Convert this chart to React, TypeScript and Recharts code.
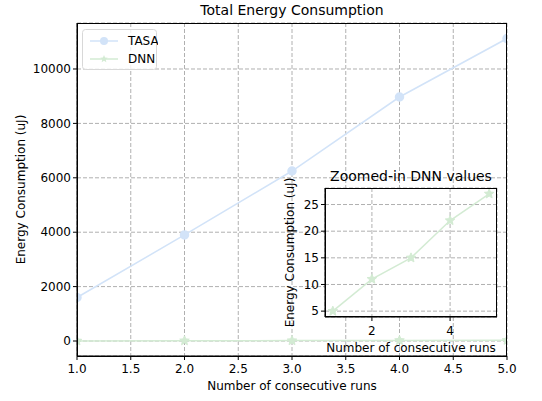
import { LineChart, Line, XAxis, YAxis, CartesianGrid, Label } from 'recharts';

const runs = [1, 2, 3, 4, 5];
const tasaEnergy = [1600, 3900, 6250, 8970, 11120];
const dnnEnergy = [5, 11, 15, 22, 27];

const mainXTicks = [1, 1.5, 2, 2.5, 3, 3.5, 4, 4.5, 5];
const mainYTicks = [0, 2000, 4000, 6000, 8000, 10000];
const insetXTicks = [2, 4];
const insetYTicks = [5, 10, 15, 20, 25];

const TASA_COLOR = '#d2e3f8';
const DNN_COLOR = '#d3ebd3';
const FONT = '"DejaVu Sans", sans-serif';

const data = runs.map((r, i) => ({ run: r, tasa: tasaEnergy[i], dnn: dnnEnergy[i] }));

const starPath = (cx: number, cy: number, R: number) => {
    const r = R * 0.45;
    let d = '';
    for (let i = 0; i < 10; i++) {
        const rad = i % 2 === 0 ? R : r;
        const a = -Math.PI / 2 + (i * Math.PI) / 5;
        d += (i === 0 ? 'M' : 'L') + (cx + rad * Math.cos(a)) + ',' + (cy + rad * Math.sin(a));
    }
    return d + 'Z';
};

const StarDot = (props: any) => {
    const { cx, cy, index } = props;
    if (cx == null || cy == null) return null;
    return <path key={index} d={starPath(cx, cy, 5)} fill={DNN_COLOR} stroke={DNN_COLOR} />;
};

// legend drawn by hand so it doesn't eat plot space
const LegendBox = () => (
    <svg width={76} height={42} style={{ display: 'block' }}>
        <rect x={0.5} y={0.5} width={74} height={40} rx={3} fill="white" fillOpacity={0.8} stroke="#d8d8d8" />
        <line x1={8} x2={36} y1={12} y2={12} stroke={TASA_COLOR} strokeWidth={1.5} />
        <circle cx={22} cy={12} r={4} fill={TASA_COLOR} />
        <text x={46} y={16} fontSize={12} fontFamily={FONT} fill="#000">TASA</text>
        <line x1={8} x2={36} y1={30} y2={30} stroke={DNN_COLOR} strokeWidth={1.5} />
        <path d={starPath(22, 30, 4)} fill={DNN_COLOR} />
        <text x={46} y={34} fontSize={12} fontFamily={FONT} fill="#000">DNN</text>
    </svg>
);

const tickStyle = { fontSize: 12, fontFamily: FONT, fill: '#000' };
const labelStyle = { fontSize: 12, fontFamily: FONT, fill: '#000' };

export default function App() {
    return (
        <div style={{ position: 'absolute', left: 0, top: 0, width: 542, height: 401, background: 'white' }}>
            <div
                style={{
                    position: 'absolute', left: 77, width: 430, top: 2, textAlign: 'center',
                    fontFamily: FONT, fontSize: 14, color: '#000',
                }}
            >
                Total Energy Consumption
            </div>
            <div style={{ position: 'absolute', left: 0, top: 0 }}>
                <LineChart width={542} height={401} data={data} margin={{ top: 23, right: 35, bottom: 0, left: 0 }}>
                    <CartesianGrid stroke="#b0b0b0" strokeDasharray="4 2" />
                    <XAxis
                        dataKey="run"
                        type="number"
                        domain={[1, 5]}
                        ticks={mainXTicks}
                        tickFormatter={(v: number) => v.toFixed(1)}
                        height={45}
                        tick={tickStyle}
                        tickLine={{ stroke: '#000' }}
                        tickSize={4}
                        tickMargin={4}
                        axisLine={{ stroke: '#000' }}
                        allowDataOverflow
                    >
                        <Label value="Number of consecutive runs" position="insideBottom" offset={11} style={labelStyle} />
                    </XAxis>
                    <YAxis
                        type="number"
                        domain={[-551, 11691]}
                        ticks={mainYTicks}
                        width={77}
                        tick={tickStyle}
                        tickLine={{ stroke: '#000' }}
                        tickSize={4}
                        axisLine={{ stroke: '#000' }}
                        allowDataOverflow
                    >
                        <Label value="Energy Consumption (uJ)" angle={-90} position="center" dx={-18} style={labelStyle} />
                    </YAxis>
                    <Line
                        dataKey="tasa"
                        type="linear"
                        stroke={TASA_COLOR}
                        strokeWidth={1.5}
                        dot={{ r: 4, fill: TASA_COLOR, stroke: TASA_COLOR }}
                        isAnimationActive={false}
                    />
                    <Line
                        dataKey="dnn"
                        type="linear"
                        stroke={DNN_COLOR}
                        strokeWidth={1.5}
                        dot={<StarDot />}
                        isAnimationActive={false}
                    />
                </LineChart>
                <div style={{ position: 'absolute', left: 77, top: 23, width: 430, height: 334, border: '1px solid #000', boxSizing: 'border-box', pointerEvents: 'none' }} />
            </div>
            <div style={{ position: 'absolute', left: 82, top: 29 }}>
                <LegendBox />
            </div>

            {/* inset */}
            <div
                style={{
                    position: 'absolute', left: 272, width: 278, top: 168, textAlign: 'center',
                    fontFamily: FONT, fontSize: 14, color: '#000',
                }}
            >
                Zoomed-in DNN values
            </div>
            <div style={{ position: 'absolute', left: 325, top: 188, width: 172, height: 129, background: 'white' }} />
            <div style={{ position: 'absolute', left: 270, top: 160, width: 272, height: 200 }}>
                <LineChart width={272} height={200} data={data} margin={{ top: 28, right: 45, bottom: 0, left: 0 }}>
                    <CartesianGrid stroke="#b0b0b0" strokeDasharray="4 2" />
                    <XAxis
                        dataKey="run"
                        type="number"
                        domain={[0.8, 5.2]}
                        ticks={insetXTicks}
                        height={43}
                        tick={tickStyle}
                        tickLine={{ stroke: '#000' }}
                        tickSize={4}
                        tickMargin={5}
                        axisLine={{ stroke: '#000' }}
                        allowDataOverflow
                    >
                        <Label value="Number of consecutive runs" position="insideBottom" offset={8} style={labelStyle} />
                    </XAxis>
                    <YAxis
                        type="number"
                        domain={[3.9, 28.1]}
                        ticks={insetYTicks}
                        width={55}
                        tick={tickStyle}
                        tickLine={{ stroke: '#000' }}
                        tickSize={4}
                        axisLine={{ stroke: '#000' }}
                        allowDataOverflow
                    >
                        <Label value="Energy Consumption (uJ)" angle={-90} position="center" dx={-8} style={labelStyle} />
                    </YAxis>
                    <Line
                        dataKey="dnn"
                        type="linear"
                        stroke={DNN_COLOR}
                        strokeWidth={1.5}
                        dot={<StarDot />}
                        isAnimationActive={false}
                    />
                </LineChart>
                <div style={{ position: 'absolute', left: 55, top: 28, width: 172, height: 129, border: '1px solid #000', boxSizing: 'border-box', pointerEvents: 'none' }} />
            </div>
        </div>
    );
}
